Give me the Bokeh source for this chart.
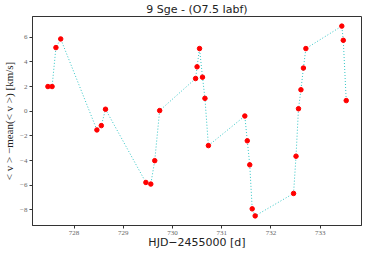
from bokeh.plotting import figure
from bokeh.models import Range1d, FixedTicker
from bokeh.embed import file_html
from bokeh.resources import INLINE

# Data
hjd = [727.47, 727.555, 727.633, 727.73, 728.465, 728.555, 728.64,
       729.46, 729.56, 729.64, 729.74, 730.47, 730.50, 730.55, 730.61,
       730.66, 730.73, 731.47, 731.52, 731.57, 731.62, 731.68, 732.46,
       732.51, 732.56, 732.61, 732.66, 732.71, 733.44, 733.47, 733.53]
dv = [2.0, 2.0, 5.16, 5.86, -1.52, -1.17, 0.16,
      -5.78, -5.91, -4.01, 0.05, 2.65, 3.6, 5.08, 2.76,
      1.04, -2.79, -0.39, -2.4, -4.35, -7.92, -8.49, -6.67,
      -3.65, 0.2, 1.74, 3.5, 5.08, 6.9, 5.75, 0.86]
x_ticks = [728, 729, 730, 731, 732, 733]
y_ticks = [-8, -6, -4, -2, 0, 2, 4, 6]

p = figure(width=364, height=251, output_backend="svg", toolbar_location=None,
           x_range=Range1d(727.157, 733.84), y_range=Range1d(-9.27, 7.68),
           title="9 Sge - (O7.5 Iabf)")
p.min_border_left = 0
p.min_border_right = 3
p.min_border_top = 0
p.min_border_bottom = 0
p.background_fill_color = "white"
p.border_fill_color = "white"
p.outline_line_color = "#333333"
p.outline_line_width = 1
p.grid.visible = False

p.title.align = "center"
p.title.text_font = "DejaVu Sans"
p.title.text_font_size = "11px"
p.title.text_font_style = "normal"
p.title.text_color = "#222222"
p.title.standoff = 1

for ax in (p.xaxis[0], p.yaxis[0]):
    ax.axis_line_color = "#333333"
    ax.major_tick_line_color = "#333333"
    ax.major_tick_out = 3
    ax.major_tick_in = 0
    ax.minor_tick_line_color = None
    ax.major_label_text_font = "Liberation Serif"
    ax.major_label_text_font_size = "7px"
    ax.major_label_text_color = "#666666"
    ax.axis_label_text_font_style = "normal"
    ax.axis_label_text_color = "#222222"
    ax.axis_label_text_font_size = "11px"
    ax.major_label_standoff = 2
    ax.axis_label_standoff = 2

p.xaxis.axis_label_standoff = -2
p.xaxis.axis_label_text_line_height = 0.9
p.xaxis.ticker = FixedTicker(ticks=x_ticks)
p.yaxis.ticker = FixedTicker(ticks=y_ticks)
p.xaxis.major_label_overrides = {t: str(t) for t in x_ticks}
p.yaxis.major_label_overrides = {t: str(t).replace("-", "\u2212") for t in y_ticks}
p.xaxis.axis_label = "HJD\u22122455000 [d]"
p.xaxis.axis_label_text_font = "DejaVu Sans"
p.yaxis.axis_label = "< v > \u2212mean(< v >) [km/s]"
p.yaxis.axis_label_text_font = "Liberation Serif"

p.line(hjd, dv, line_color="#00b8b8", line_width=1, line_dash="1 2", line_alpha=0.8)
p.scatter(hjd, dv, size=4.5, fill_color="#ff0000", line_color="#ff0000")

open("out.html", "w").write(file_html(p, INLINE))
